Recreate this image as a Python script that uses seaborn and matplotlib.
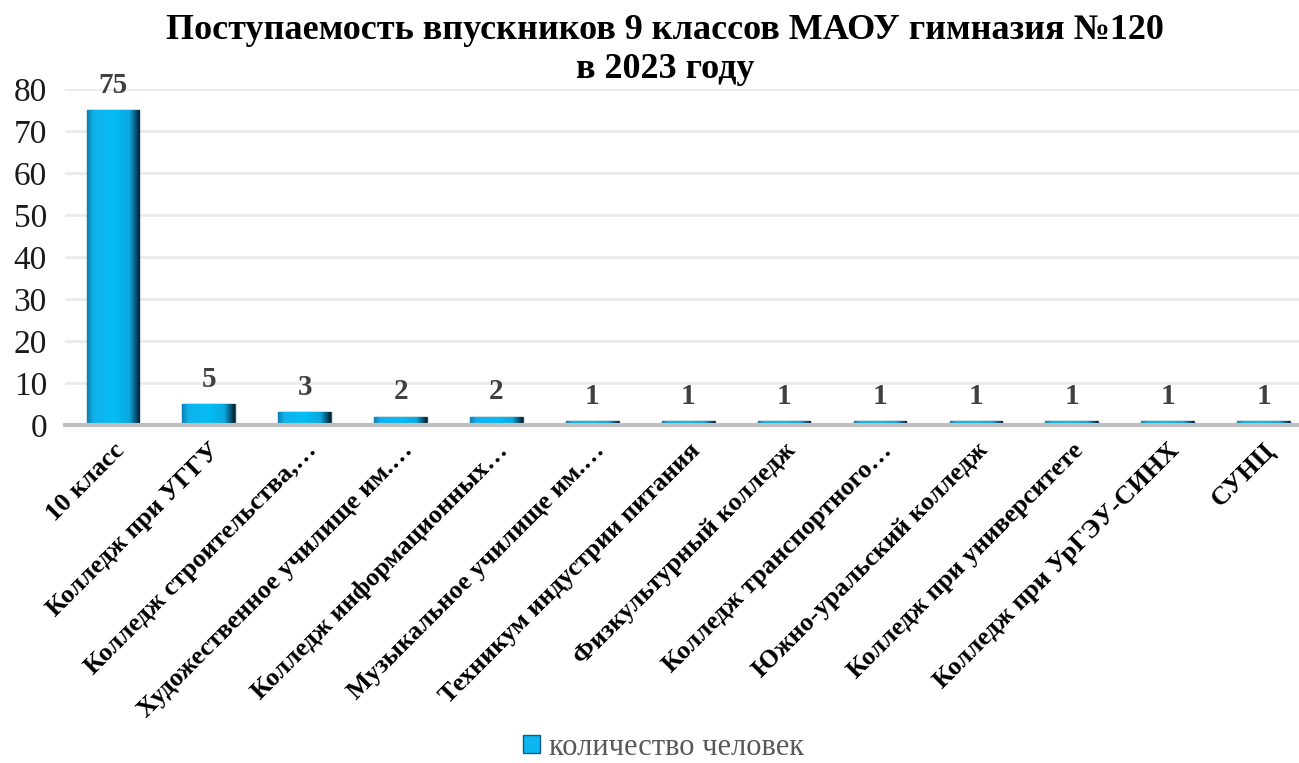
import numpy as np
import pandas as pd
import seaborn as sns
import matplotlib.pyplot as plt
from matplotlib.colors import LinearSegmentedColormap

categories = [
    "10 класс",
    "Колледж при УГГУ",
    "Колледж строительства,…",
    "Художественное училище им.…",
    "Колледж информационных…",
    "Музыкальное училище им.…",
    "Техникум индустрии питания",
    "Физкультурный колледж",
    "Колледж транспортного…",
    "Южно-уральский колледж",
    "Колледж при университете",
    "Колледж при УрГЭУ-СИНХ",
    "СУНЦ",
]
counts = [75, 5, 3, 2, 2, 1, 1, 1, 1, 1, 1, 1, 1]
series_name = "количество человек"
title = "Поступаемость впускников 9 классов МАОУ гимназия №120\nв 2023 году"

sns.set_theme(style="white")
plt.rcParams['font.family'] = ['Liberation Serif', 'DejaVu Serif']

df = pd.DataFrame({"Учреждение": categories, "Количество": counts, "Серия": series_name})

fig = plt.figure(figsize=(12.99, 7.63), dpi=100)
ax = fig.add_axes([65 / 1299, 1 - 425 / 763, 1234 / 1299, 336 / 763])

sns.barplot(
    data=df,
    x="Учреждение",
    y="Количество",
    hue="Серия",
    palette=["#0cb6f0"],
    saturation=1,
    width=0.55,
    edgecolor="#0a5f82",
    linewidth=1.0,
    ax=ax,
)

# bevel look: horizontal gradient clipped to each bar
bevel = LinearSegmentedColormap.from_list("bevel", [
    (0.0, "#0a7fb0"), (0.12, "#10b2ea"), (0.5, "#05bdf6"),
    (0.8, "#0aa8de"), (0.92, "#07577a"), (1.0, "#021d2a")])
grad = np.linspace(0, 1, 256).reshape(1, -1)
for bar in list(ax.patches):
    x0, y0 = bar.get_x(), bar.get_y()
    w, h = bar.get_width(), bar.get_height()
    im = ax.imshow(grad, cmap=bevel, aspect="auto", extent=[x0, x0 + w, y0, y0 + h],
                   zorder=bar.get_zorder() + 0.1, interpolation="bilinear")
    im.set_clip_path(bar)

ax.set_ylim(0, 80)
ax.set_xlim(-0.5, 12.37)
ax.set_yticks(range(0, 81, 10))
ax.yaxis.grid(True, color="#ebebeb", linewidth=2)
ax.set_axisbelow(True)
for s in ["top", "right", "left"]:
    ax.spines[s].set_visible(False)
ax.spines["bottom"].set_color("#bfbfbf")
ax.spines["bottom"].set_linewidth(3)
ax.spines["bottom"].set_zorder(5)
ax.tick_params(axis="y", labelsize=24, labelcolor="#1a1a1a", length=0, pad=13)
ax.tick_params(axis="x", length=0, pad=10)
ax.set_xticks(range(len(categories)))
ax.set_xticklabels(categories, rotation=45, ha="right", rotation_mode="anchor",
                   fontsize=19, fontweight="bold", color="black")
ax.set_xlabel("")
ax.set_ylabel("")

for container in ax.containers:
    ax.bar_label(container, fmt="%d", padding=8, fontsize=21, fontweight="bold", color="#404040")

fig.suptitle(title, x=0.512, y=0.982, fontsize=26, fontweight="bold", color="black", linespacing=1.25)

ax.legend(loc="center", bbox_to_anchor=(0.485, -0.96), frameon=False,
          fontsize=22, handlelength=0.55, handleheight=0.55, handletextpad=0.3,
          labelcolor="#595959")

plt.savefig("out.png", dpi=100)
